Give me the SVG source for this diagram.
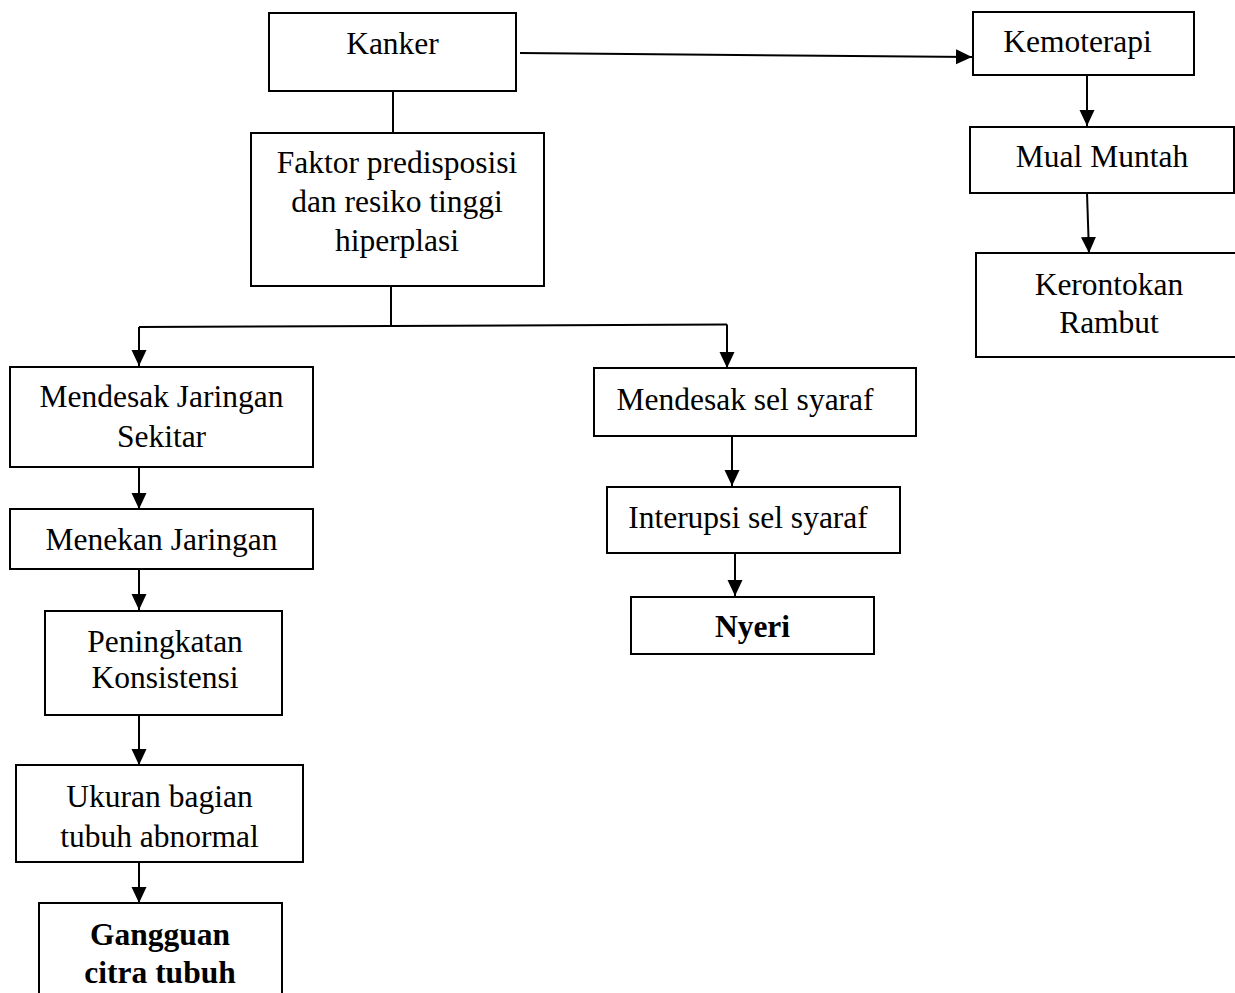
<svg xmlns="http://www.w3.org/2000/svg" width="1235" height="993" viewBox="0 0 1235 993">
<style>
.box{fill:#fff;stroke:#000;stroke-width:2}
.t{font-family:"Liberation Serif","Times New Roman",serif;font-size:31.5px;fill:#000;text-anchor:middle}
.b{font-weight:bold}
.c{fill:none;stroke:#000;stroke-width:2}
</style>
<defs>
<marker id="ah" markerUnits="userSpaceOnUse" markerWidth="16" markerHeight="16" refX="16" refY="7.5" orient="auto">
<path d="M0,0 L16,7.5 L0,15 z" fill="#000"/>
</marker>
</defs>
<rect width="1235" height="993" fill="#fff"/>
<g id="connectors">
<line class="c" x1="393" y1="91" x2="393" y2="133"/>
<line class="c" x1="391" y1="286" x2="391" y2="326"/>
<polyline class="c" points="139,327 391,326 727,324.5"/>
<line class="c" x1="139" y1="327" x2="139" y2="366" marker-end="url(#ah)"/>
<line class="c" x1="727" y1="324.5" x2="727" y2="368" marker-end="url(#ah)"/>
<line class="c" x1="139" y1="467" x2="139" y2="509" marker-end="url(#ah)"/>
<line class="c" x1="139" y1="569" x2="139" y2="610" marker-end="url(#ah)"/>
<line class="c" x1="139" y1="715" x2="139" y2="765" marker-end="url(#ah)"/>
<line class="c" x1="139" y1="862" x2="139" y2="903" marker-end="url(#ah)"/>
<line class="c" x1="732" y1="436" x2="732" y2="486" marker-end="url(#ah)"/>
<line class="c" x1="735" y1="553" x2="735" y2="596" marker-end="url(#ah)"/>
<line class="c" x1="520" y1="53" x2="972" y2="57" marker-end="url(#ah)"/>
<line class="c" x1="1087" y1="75" x2="1087" y2="126" marker-end="url(#ah)"/>
<line class="c" x1="1087" y1="193" x2="1089" y2="253" marker-end="url(#ah)"/>
</g>
<g id="kanker"><rect class="box" x="269" y="13" width="247" height="78"/><text class="t" x="392.5" y="54">Kanker</text></g>
<g id="faktor"><rect class="box" x="251" y="133" width="293" height="153"/>
<text class="t" x="397" y="173">Faktor predisposisi</text>
<text class="t" x="397" y="212">dan resiko tinggi</text>
<text class="t" x="397" y="251">hiperplasi</text></g>
<g id="mendesak-jaringan"><rect class="box" x="10" y="367" width="303" height="100"/>
<text class="t" x="161.5" y="407">Mendesak Jaringan</text>
<text class="t" x="161.5" y="447">Sekitar</text></g>
<g id="menekan"><rect class="box" x="10" y="509" width="303" height="60"/>
<text class="t" x="161.5" y="550">Menekan Jaringan</text></g>
<g id="peningkatan"><rect class="box" x="45" y="611" width="237" height="104"/>
<text class="t" x="165" y="652">Peningkatan</text>
<text class="t" x="165" y="688">Konsistensi</text></g>
<g id="ukuran"><rect class="box" x="16" y="765" width="287" height="97"/>
<text class="t" x="159.5" y="807">Ukuran bagian</text>
<text class="t" x="159.5" y="847">tubuh abnormal</text></g>
<g id="gangguan"><rect class="box" x="39" y="903" width="243" height="110"/>
<text class="t b" x="160" y="945">Gangguan</text>
<text class="t b" x="160" y="983">citra tubuh</text></g>
<g id="mendesak-sel"><rect class="box" x="594" y="368" width="322" height="68"/>
<text class="t" x="745" y="410">Mendesak sel syaraf</text></g>
<g id="interupsi"><rect class="box" x="607" y="487" width="293" height="66"/>
<text class="t" x="748" y="528">Interupsi sel syaraf</text></g>
<g id="nyeri"><rect class="box" x="631" y="597" width="243" height="57"/>
<text class="t b" x="752.5" y="637">Nyeri</text></g>
<g id="kemoterapi"><rect class="box" x="973" y="12" width="221" height="63"/>
<text class="t" x="1077.5" y="52">Kemoterapi</text></g>
<g id="mual"><rect class="box" x="970" y="127" width="264" height="66"/>
<text class="t" x="1102" y="167">Mual Muntah</text></g>
<g id="kerontokan"><rect class="box" x="976" y="253" width="270" height="104"/>
<text class="t" x="1109" y="295">Kerontokan</text>
<text class="t" x="1109" y="333">Rambut</text></g>
</svg>
